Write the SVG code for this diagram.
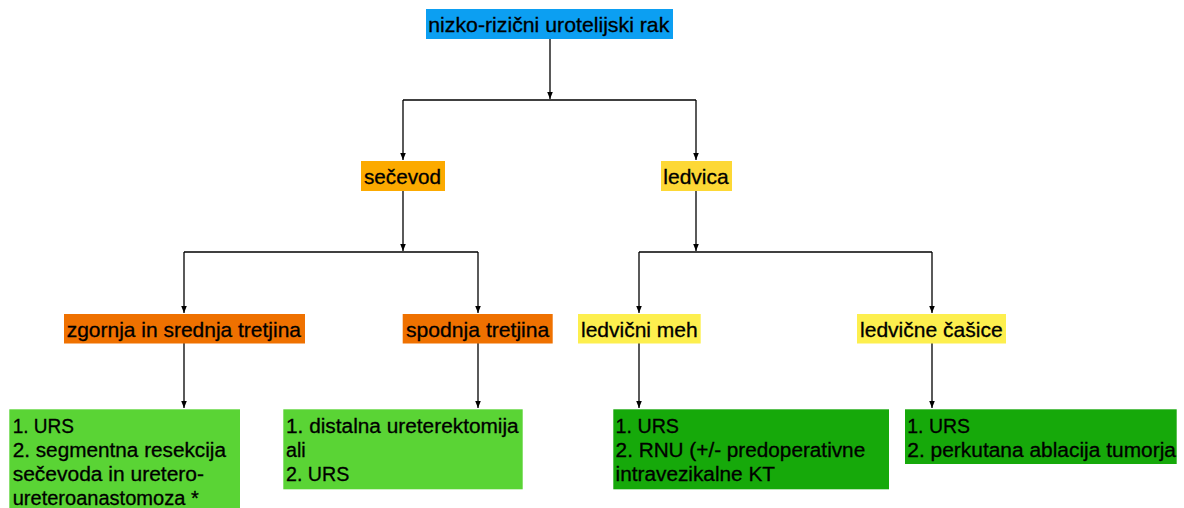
<svg xmlns="http://www.w3.org/2000/svg" width="1184" height="508" viewBox="0 0 1184 508">
<defs>
<style>
text{font-family:"Liberation Sans",Arial,Helvetica,sans-serif;fill:#000;stroke:#000;stroke-width:0.3px;}
.h{font-size:21px;}
.g{font-size:20px;}
.c{fill:none;stroke:#000;stroke-width:1.3;}
.a{marker-end:url(#ah);}
</style>
<marker id="ah" viewBox="0 0 10 10" refX="10" refY="5" markerWidth="7" markerHeight="7" markerUnits="userSpaceOnUse" orient="auto"><path d="M0,1 L10,5 L0,9 z" fill="#000"/></marker>
</defs>
<rect width="1184" height="508" fill="#fff"/>
<g id="connectors">
<path class="c a" d="M550,39 V99"/>
<path class="c" d="M403,100 H696"/>
<path class="c a" d="M403,100 V160"/>
<path class="c a" d="M696,100 V160"/>
<path class="c a" d="M403,191 V251"/>
<path class="c" d="M184,252 H478"/>
<path class="c a" d="M184,252 V313"/>
<path class="c a" d="M478,252 V313"/>
<path class="c a" d="M696,191 V251"/>
<path class="c" d="M639,252 H932"/>
<path class="c a" d="M639,252 V313"/>
<path class="c a" d="M932,252 V313"/>
<path class="c a" d="M184,343 V408"/>
<path class="c a" d="M478,343 V408"/>
<path class="c a" d="M639,343 V408"/>
<path class="c a" d="M932,343 V408"/>
</g>
<g id="root">
<rect x="426" y="9" width="247" height="30" fill="#0C9FF2"/>
<text class="h" x="428.3" y="31.5" textLength="241" lengthAdjust="spacingAndGlyphs">nizko-rizični urotelijski rak</text>
</g>
<g id="secevod">
<rect x="361" y="161" width="84" height="30" fill="#FCAA00"/>
<text class="h" x="364" y="184" textLength="77" lengthAdjust="spacingAndGlyphs">sečevod</text>
</g>
<g id="ledvica">
<rect x="661" y="161" width="71" height="30" fill="#FDD835"/>
<text class="h" x="663.3" y="184" textLength="65.4" lengthAdjust="spacingAndGlyphs">ledvica</text>
</g>
<g id="zgornja">
<rect x="64" y="314" width="241" height="29.5" fill="#EF7100"/>
<text class="h" x="66.7" y="336.5" textLength="234.3" lengthAdjust="spacingAndGlyphs">zgornja in srednja tretjina</text>
</g>
<g id="spodnja">
<rect x="402.7" y="314" width="150" height="29.5" fill="#EF7100"/>
<text class="h" x="406" y="336.5" textLength="143.3" lengthAdjust="spacingAndGlyphs">spodnja tretjina</text>
</g>
<g id="meh">
<rect x="578" y="314" width="122.7" height="29.5" fill="#FDEF4E"/>
<text class="h" x="581" y="336.5" textLength="116.7" lengthAdjust="spacingAndGlyphs">ledvični meh</text>
</g>
<g id="casice">
<rect x="857" y="314" width="149" height="29.5" fill="#FDEF4E"/>
<text class="h" x="860" y="336.5" textLength="142.7" lengthAdjust="spacingAndGlyphs">ledvične čašice</text>
</g>
<g id="tx1">
<rect x="9.3" y="409.3" width="230.7" height="110" fill="#5AD435"/>
<text class="g" x="12.7" y="432.7" textLength="61.3" lengthAdjust="spacingAndGlyphs">1. URS</text>
<text class="g" x="12.7" y="456.7" textLength="213.3" lengthAdjust="spacingAndGlyphs">2. segmentna resekcija</text>
<text class="g" x="12.7" y="480.7" textLength="191.3" lengthAdjust="spacingAndGlyphs">sečevoda in uretero-</text>
<text class="g" x="12.7" y="504.7" textLength="186" lengthAdjust="spacingAndGlyphs">ureteroanastomoza *</text>
</g>
<g id="tx2">
<rect x="283.3" y="409.3" width="239.4" height="80" fill="#5AD435"/>
<text class="g" x="286" y="432.7" textLength="232.7" lengthAdjust="spacingAndGlyphs">1. distalna ureterektomija</text>
<text class="g" x="286" y="456.7" textLength="19.7" lengthAdjust="spacingAndGlyphs">ali</text>
<text class="g" x="286" y="480.7" textLength="63.3" lengthAdjust="spacingAndGlyphs">2. URS</text>
</g>
<g id="tx3">
<rect x="613.3" y="409.3" width="275.7" height="80" fill="#16A90A"/>
<text class="g" x="615.6" y="432.7" textLength="63.4" lengthAdjust="spacingAndGlyphs">1. URS</text>
<text class="g" x="615.6" y="456.7" textLength="249.6" lengthAdjust="spacingAndGlyphs">2. RNU (+/- predoperativne</text>
<text class="g" x="615.6" y="480.7" textLength="159.4" lengthAdjust="spacingAndGlyphs">intravezikalne KT</text>
</g>
<g id="tx4">
<rect x="905" y="409.3" width="271.7" height="54.7" fill="#16A90A"/>
<text class="g" x="907.3" y="432.7" textLength="62.7" lengthAdjust="spacingAndGlyphs">1. URS</text>
<text class="g" x="907.3" y="456.7" textLength="268.7" lengthAdjust="spacingAndGlyphs">2. perkutana ablacija tumorja</text>
</g>
</svg>
